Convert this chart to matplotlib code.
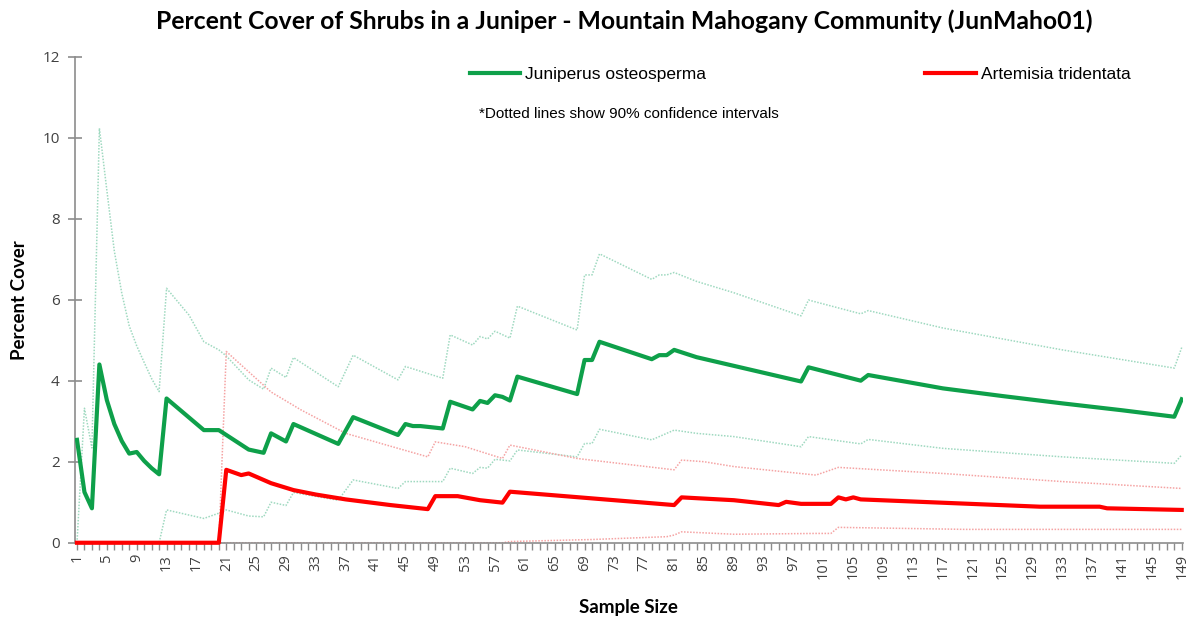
import matplotlib.pyplot as plt
from matplotlib.ticker import MultipleLocator, FixedLocator

# Juniperus osteosperma - mean cover and 90% CI (vertices)
jun_x = [1, 2, 3, 4, 5, 6, 7, 8, 9, 10, 11, 12, 13, 18, 20, 24, 26, 27, 29, 30, 36, 38, 44, 45, 46, 47,
         50, 51, 54, 55, 56, 57, 58, 59, 60, 68, 69, 70, 71, 78, 79, 80, 81, 84, 98, 99, 106, 107, 117,
         125, 133, 141, 148, 149]
jun_y = [2.54, 1.25, 0.85, 4.40, 3.52, 2.93, 2.51, 2.20, 2.24, 2.02, 1.84, 1.69, 3.56, 2.78, 2.78, 2.30,
         2.22, 2.70, 2.50, 2.93, 2.44, 3.10, 2.66, 2.93, 2.88, 2.88, 2.82, 3.48, 3.29, 3.50, 3.45, 3.64,
         3.60, 3.51, 4.10, 3.67, 4.51, 4.51, 4.96, 4.53, 4.63, 4.63, 4.76, 4.58, 3.98, 4.33, 4.00, 4.14,
         3.81, 3.62, 3.44, 3.27, 3.11, 3.54]

jun_hi_x = [1, 2, 3, 4, 5, 6, 7, 8, 9, 10, 11, 12, 13, 16, 18, 20, 21, 24, 26, 27, 29, 30, 36, 38, 44,
            45, 50, 51, 54, 55, 56, 57, 59, 60, 68, 69, 70, 71, 78, 79, 80, 81, 84, 89, 98, 99, 106,
            107, 117, 133, 148, 149]
jun_hi_y = [0, 3.32, 2.34, 10.23, 8.7, 7.2, 6.16, 5.35, 4.86, 4.45, 4.05, 3.73, 6.28, 5.62, 4.96, 4.76,
            4.61, 4.02, 3.79, 4.31, 4.08, 4.57, 3.85, 4.63, 4.02, 4.35, 4.06, 5.13, 4.88, 5.09, 5.03,
            5.22, 5.05, 5.84, 5.25, 6.61, 6.61, 7.13, 6.50, 6.61, 6.61, 6.67, 6.45, 6.17, 5.60, 5.99,
            5.65, 5.73, 5.30, 4.76, 4.31, 4.82]

jun_lo_x = [1, 12, 13, 18, 20, 21, 24, 26, 27, 29, 30, 36, 38, 44, 45, 50, 51, 54, 55, 56, 57, 59, 60,
            68, 69, 70, 71, 78, 81, 84, 89, 98, 99, 106, 107, 117, 133, 148, 149]
jun_lo_y = [0, 0, 0.81, 0.60, 0.73, 0.81, 0.66, 0.64, 1.00, 0.92, 1.24, 1.05, 1.55, 1.34, 1.51, 1.51,
            1.84, 1.71, 1.86, 1.84, 2.06, 2.02, 2.29, 2.12, 2.45, 2.45, 2.80, 2.54, 2.78, 2.70, 2.62,
            2.37, 2.62, 2.44, 2.55, 2.33, 2.12, 1.96, 2.17]

# Artemisia tridentata
art_x = [1, 20, 21, 23, 24, 27, 30, 33, 37, 43, 48, 49, 52, 55, 58, 59, 81, 82, 89, 95, 96, 98, 102,
         103, 104, 105, 106, 130, 138, 139, 149]
art_y = [0, 0, 1.80, 1.67, 1.71, 1.47, 1.30, 1.19, 1.07, 0.93, 0.83, 1.15, 1.15, 1.05, 0.99, 1.26,
         0.93, 1.12, 1.05, 0.93, 1.01, 0.96, 0.96, 1.12, 1.07, 1.12, 1.07, 0.89, 0.89, 0.85, 0.81]

art_hi_x = [1, 20, 21, 24, 27, 31, 37, 44, 48, 49, 53, 58, 59, 68, 81, 82, 85, 89, 100, 103, 117,
            133, 149]
art_hi_y = [0, 0, 4.72, 4.22, 3.72, 3.28, 2.70, 2.33, 2.12, 2.49, 2.37, 2.08, 2.41, 2.08, 1.80, 2.04,
            2.00, 1.88, 1.67, 1.86, 1.71, 1.51, 1.34]

art_lo_x = [1, 58, 59, 70, 80, 81, 82, 89, 100, 102, 103, 120, 149]
art_lo_y = [0, 0, 0.03, 0.08, 0.15, 0.19, 0.27, 0.21, 0.23, 0.23, 0.38, 0.33, 0.33]

green = '#0ea04a'
red = '#ff0000'
green_ci = '#9fd9c0'
red_ci = '#f5a3a3'

fig = plt.figure(figsize=(11.9, 6.21), dpi=100)
ax = fig.add_axes([0.063, 0.126, 0.931, 0.783])

dot = (0, (1, 1))
ax.plot(jun_hi_x, jun_hi_y, color=green_ci, lw=1.1, ls=dot, zorder=2)
ax.plot(jun_lo_x, jun_lo_y, color=green_ci, lw=1.1, ls=dot, zorder=2)
ax.plot(art_hi_x, art_hi_y, color=red_ci, lw=1.1, ls=dot, zorder=2)
ax.plot(art_lo_x, art_lo_y, color=red_ci, lw=1.1, ls=dot, zorder=2)
ax.plot(jun_x, jun_y, color=green, lw=3, zorder=4, label='Juniperus osteosperma')
ax.plot(art_x, art_y, color=red, lw=3, zorder=5, clip_on=False, label='Artemisia tridentata')

ax.set_xlim(0.73, 149.15)
ax.set_ylim(0, 12)
ax.yaxis.set_major_locator(MultipleLocator(2))
ax.xaxis.set_major_locator(FixedLocator(list(range(1, 150, 4))))
ax.xaxis.set_minor_locator(MultipleLocator(1))

for s in ['top', 'right']:
    ax.spines[s].set_visible(False)
for s in ['left', 'bottom']:
    ax.spines[s].set_color('#8c8c8c')
    ax.spines[s].set_linewidth(1.2)

ax.tick_params(axis='y', direction='inout', length=10, width=1.2, color='#8c8c8c',
               labelsize=11, labelcolor='#404040', pad=6)
ax.tick_params(axis='x', which='both', direction='out', length=5, width=1, color='#8c8c8c',
               labelsize=10.5, labelcolor='#404040', labelrotation=90, pad=3)
for lab in ax.get_xticklabels() + ax.get_yticklabels():
    lab.set_family('Open Sans')

ax.set_xlabel('Sample Size', family='Lato', fontweight='bold', fontsize=13.5, labelpad=14)
ax.set_ylabel('Percent Cover', family='Lato', fontweight='bold', fontsize=13.5, labelpad=10)
fig.suptitle('Percent Cover of Shrubs in a Juniper - Mountain Mahogany Community (JunMaho01)',
             family='Lato', fontweight='bold', fontsize=17.8, x=0.525, y=0.985)

ax.legend(loc='center left', bbox_to_anchor=(0.3565, 0.964), ncol=2, frameon=False,
          borderaxespad=0, borderpad=0,
          handlelength=2.9, handletextpad=0.3, columnspacing=12.6,
          prop={'family': ['Liberation Sans Narrow', 'Liberation Sans'], 'size': 12.5})
ax.text(0.365, 0.882, '*Dotted lines show 90% confidence intervals', transform=ax.transAxes,
        family=['Liberation Sans Narrow', 'Liberation Sans'], fontsize=11, va='center')

fig.savefig('out.png', dpi=100)
